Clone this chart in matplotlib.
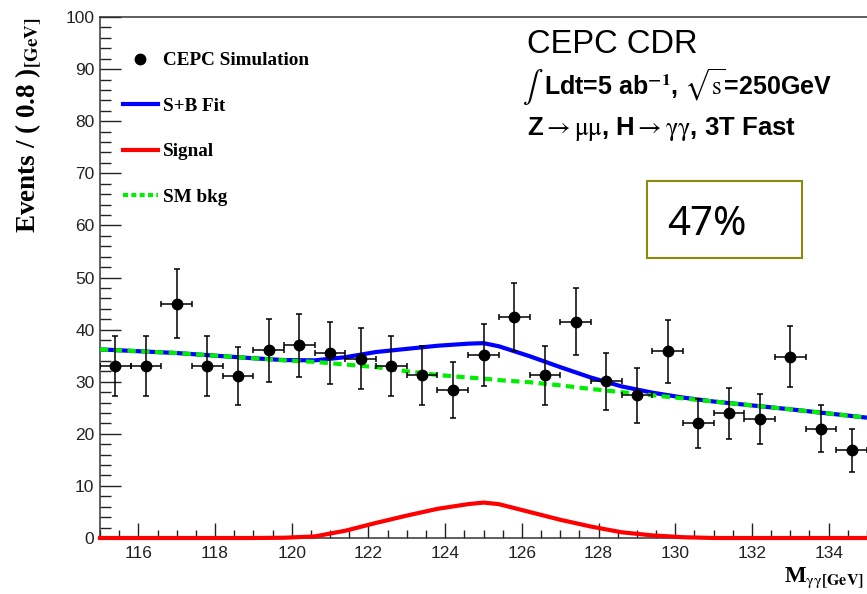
import numpy as np
import matplotlib
matplotlib.use("Agg")
import matplotlib.pyplot as plt
from matplotlib.lines import Line2D
from matplotlib.patches import Rectangle

plt.rcParams['mathtext.fontset'] = 'stix'

# diphoton mass bins (0.8 GeV wide) and event counts
mass = [115.4, 116.2, 117.0, 117.8, 118.6, 119.4, 120.2, 121.0, 121.8, 122.6,
        123.4, 124.2, 125.0, 125.8, 126.6, 127.4, 128.2, 129.0, 129.8, 130.6,
        131.4, 132.2, 133.0, 133.8, 134.6]
counts = [33, 33, 45, 33, 31, 36, 37, 35.5, 34.4, 33,
          31.2, 28.4, 35.1, 42.5, 31.2, 41.5, 30.1, 27.4, 35.8, 22,
          23.9, 22.9, 34.8, 21, 16.8]
err = np.sqrt(counts)

# fit curves
fit_x = [115, 117, 119, 119.8, 120.6, 121.4, 122.2, 123.0, 123.8, 124.6, 125.0,
         125.4, 126.2, 127.0, 127.8, 128.6, 129.4, 130.2, 131, 133, 135]
bkg = [36.2, 35.5, 34.5, 34.1, 33.8, 33.3, 32.8, 32.0, 31.3, 30.8, 30.6,
       30.3, 29.9, 29.3, 28.6, 28.0, 27.4, 26.8, 26.2, 24.7, 23.1]
sig = [0, 0, 0, 0.05, 0.3, 1.4, 2.9, 4.3, 5.6, 6.5, 6.8,
       6.5, 5.0, 3.5, 2.2, 1.1, 0.5, 0.15, 0, 0, 0]
sb = np.array(bkg) + np.array(sig)

W, H = 867, 594
fig = plt.figure(figsize=(W/100, H/100), dpi=100)
ax = fig.add_axes([100/W, (H-538)/H, (W-100)/W, (538-17)/H])

ax.plot(fit_x, sb, color='#0000ff', lw=3, zorder=2)
ax.plot(fit_x, bkg, color='#00ee00', lw=3, ls=(0, (2, 1.3)), zorder=3)
ax.plot(fit_x, sig, color='#ff0000', lw=3, zorder=3, clip_on=False)
ax.errorbar(mass, counts, yerr=err, xerr=0.4, fmt='o', color='black', ms=7.5,
            elinewidth=1.1, capsize=2.5, capthick=1.1, zorder=4)

ax.set_xlim(115, 135)
ax.set_ylim(0, 100)
ax.set_xticks(np.arange(116, 135, 2))
ax.set_xticks(np.arange(115, 135.01, 0.5), minor=True)
ax.set_yticks(np.arange(0, 101, 10))
ax.set_yticks(np.arange(0, 101, 2), minor=True)
ax.tick_params(axis='x', which='major', direction='in', length=11, width=1, pad=6,
               labelsize=12.5, colors='#222222')
ax.tick_params(axis='x', which='minor', direction='in', length=5.5, width=1, colors='#222222')
ax.tick_params(axis='y', which='major', direction='in', length=15, width=1, pad=4,
               labelsize=12.5, colors='#222222')
ax.tick_params(axis='y', which='minor', direction='in', length=8, width=1, colors='#222222')
for lab in ax.get_xticklabels() + ax.get_yticklabels():
    lab.set_family('Liberation Sans')
ax.spines['right'].set_visible(False)
for s in ['left', 'bottom', 'top']:
    ax.spines[s].set_color('#333333')
    ax.spines[s].set_linewidth(1.1)

ax.set_ylabel(r'Events / ( 0.8 )$_{\mathbf{[GeV]}}$', family='Liberation Serif',
              fontweight='bold', fontsize=19.5, loc='top')
ax.yaxis.set_label_coords(-0.073, 1.0)
ax.set_xlabel(r'M$_{\mathrm{\gamma\gamma}\mathbf{[GeV]}}$', family='Liberation Serif',
              fontweight='bold', fontsize=16.5, loc='right')
ax.xaxis.set_label_coords(0.996, -0.052)

handles = [Line2D([], [], marker='o', ls='none', color='black', ms=7.5),
           Line2D([], [], color='#0000ff', lw=3),
           Line2D([], [], color='#ff0000', lw=3),
           Line2D([], [], color='#00ee00', lw=3, ls=(0, (1.2, 0.8)))]
labels = ['CEPC Simulation', 'S+B Fit', 'Signal', 'SM bkg']
leg = ax.legend(handles, labels, loc='upper left', bbox_to_anchor=(123/W, 1-52/H),
                bbox_transform=fig.transFigure, frameon=False, borderpad=0,
                borderaxespad=0, handlelength=1.8, handletextpad=0.3,
                labelspacing=1.46, prop={'family': 'Liberation Serif', 'weight': 'bold', 'size': 13.8})

fig.text(527/W, 1-53/H, 'CEPC CDR', family='Liberation Sans', fontsize=23.5, va='baseline')
fig.text(522/W, 1-87/H, r'$\int$', fontsize=22, va='center')
fig.text(544/W, 1-95/H, r'Ldt=5 ab$^{\mathbf{-1}}$, $\sqrt{\mathrm{s}}$=250GeV',
         family='Liberation Sans', fontweight='bold', fontsize=18, va='baseline')
fig.text(527/W, 1-135/H, r'Z$\rightarrow\mathrm{\mu\mu}$, H$\rightarrow\mathrm{\gamma\gamma}$, 3T Fast',
         family='Liberation Sans', fontweight='bold', fontsize=18.5, va='baseline')

fig.add_artist(Rectangle((647/W, 1-258/H), (802-647)/W, (258-181)/H, transform=fig.transFigure,
                         fill=False, ec='#8a8a10', lw=1.5))
fig.text(667/W, 1-235/H, '47%', family='Noto Sans', fontsize=29, va='baseline')

fig.savefig('out.png', dpi=100)
